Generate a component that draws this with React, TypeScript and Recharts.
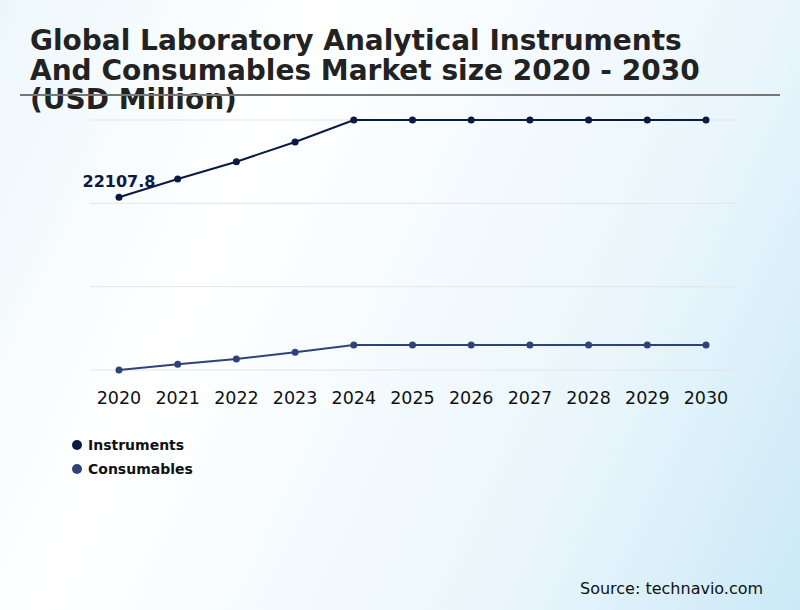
import React from 'react';
import {
  LineChart,
  Line,
  XAxis,
  YAxis,
  CartesianGrid,
  LabelList,
} from 'recharts';

// Years on the x axis
const years = ['2020', '2021', '2022', '2023', '2024', '2025', '2026', '2027', '2028', '2029', '2030'];

// Market size, USD million
const instruments = [22107.8, 23462, 24742, 26200, 27828, 27828, 27828, 27828, 27828, 27828, 27828];
const consumables = [9328, 9750, 10142, 10638, 11178, 11178, 11178, 11178, 11178, 11178, 11178];

const seriesNames = ['Instruments', 'Consumables'];
const seriesColors = ['#0b1a44', '#2e4379'];

const titleLines = [
  'Global Laboratory Analytical Instruments',
  'And Consumables Market size 2020 - 2030',
  '(USD Million)',
];

const FONT = '"DejaVu Sans", Verdana, sans-serif';

const yMin = Math.min(...consumables, ...instruments);
const yMax = Math.max(...consumables, ...instruments);
const yTicks = [0, 1, 2, 3].map((i) => yMin + ((yMax - yMin) * i) / 3);

const data = years.map((year, i) => ({
  year,
  instruments: instruments[i],
  consumables: consumables[i],
}));

const App: React.FC = () => {
  return (
    <div
      style={{
        position: 'absolute',
        left: 0,
        top: 0,
        width: 800,
        height: 610,
        overflow: 'hidden',
        fontFamily: FONT,
        background:
          'linear-gradient(115deg, #edf7fb 0%, #ffffff 30%, #eaf6fc 72%, #cbe9f7 100%)',
      }}
    >
      {/* Title, one block per line */}
      {titleLines.map((line, i) => (
        <div
          key={line}
          style={{
            position: 'absolute',
            left: 30,
            top: 28 + i * 29.5,
            height: 29,
            fontSize: 28,
            lineHeight: '25px',
            fontWeight: 'bold',
            color: '#222222',
            whiteSpace: 'nowrap',
          }}
        >
          {line}
        </div>
      ))}

      {/* rule under the title */}
      <div
        style={{
          position: 'absolute',
          left: 20,
          top: 94,
          width: 760,
          height: 2,
          background: '#777777',
        }}
      />

      <div style={{ position: 'absolute', left: 0, top: 0 }}>
        <LineChart
          width={800}
          height={610}
          data={data}
          margin={{ top: 120, left: 90, right: 64, bottom: 210 }}
        >
          <CartesianGrid vertical={false} stroke="#e4e4e4" strokeWidth={1} />
          <XAxis
            dataKey="year"
            height={30}
            axisLine={false}
            tickLine={false}
            tickMargin={16}
            interval={0}
            padding={{ left: 29, right: 30 }}
            tick={{ fill: '#111111', fontSize: 17.5, fontFamily: FONT }}
          />
          <YAxis hide domain={[yMin, yMax]} ticks={yTicks} />
          <Line
            type="linear"
            dataKey="instruments"
            stroke={seriesColors[0]}
            strokeWidth={2}
            dot={{ r: 3.5, fill: seriesColors[0], stroke: seriesColors[0], strokeWidth: 0 }}
            isAnimationActive={false}
          >
            <LabelList
              dataKey="instruments"
              position="top"
              offset={10}
              content={(props: any) => {
                if (props.index !== 0) return null;
                return (
                  <text
                    x={props.x}
                    y={props.y - 10}
                    textAnchor="middle"
                    fontFamily={FONT}
                    fontSize={16}
                    fontWeight="bold"
                    fill={seriesColors[0]}
                  >
                    {props.value}
                  </text>
                );
              }}
            />
          </Line>
          <Line
            type="linear"
            dataKey="consumables"
            stroke={seriesColors[1]}
            strokeWidth={2}
            dot={{ r: 3.5, fill: seriesColors[1], stroke: seriesColors[1], strokeWidth: 0 }}
            isAnimationActive={false}
          />
        </LineChart>
      </div>

      {/* Legend */}
      {seriesNames.map((name, i) => (
        <div
          key={name}
          style={{
            position: 'absolute',
            left: 72,
            top: 436 + i * 24,
            height: 18,
            display: 'flex',
            alignItems: 'center',
            fontSize: 14,
            fontWeight: 'bold',
            color: '#111111',
          }}
        >
          <span
            style={{
              display: 'inline-block',
              width: 10,
              height: 10,
              borderRadius: 5,
              background: seriesColors[i],
              marginRight: 6,
            }}
          />
          {name}
        </div>
      ))}

      {/* Source */}
      <div
        style={{
          position: 'absolute',
          left: 580,
          top: 579,
          fontSize: 16,
          color: '#111111',
          whiteSpace: 'nowrap',
        }}
      >
        Source: technavio.com
      </div>
    </div>
  );
};

export default App;
